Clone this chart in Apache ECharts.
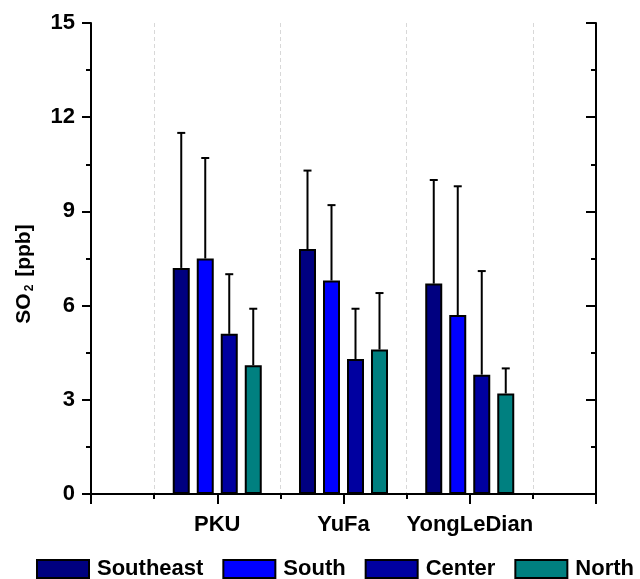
<!DOCTYPE html>
<html>
<head>
<meta charset="utf-8">
<script src="https://cdn.jsdelivr.net/npm/echarts@6/dist/echarts.min.js"></script>
<style>
  html, body { margin: 0; padding: 0; background: #fff; }
  #chart { width: 640px; height: 579px; }
</style>
</head>
<body>
<div id="chart"></div>
<script>
// ---- data ----
const categories = ['PKU', 'YuFa', 'YongLeDian'];
const seriesNames = ['Southeast', 'South', 'Center', 'North'];
const southeast    = [7.2, 7.8, 6.7];
const southeastErr = [4.3, 2.5, 3.3];
const south        = [7.5, 6.8, 5.7];
const southErr     = [3.2, 2.4, 4.1];
const center       = [5.1, 4.3, 3.8];
const centerErr    = [1.9, 1.6, 3.3];
const north        = [4.1, 4.6, 3.2];
const northErr     = [1.8, 1.8, 0.8];
const yMin = 0, yMax = 15, yStep = 3;

// ---- styling ----
const colors = ['#000080', '#0000FF', '#0000A0', '#008080'];
const FONT = 'Liberation Sans, Arial, sans-serif';
const BAR_W = 17;
const BAR_PITCH = 24;

const means = [southeast, south, center, north];
const errs = [southeastErr, southErr, centerErr, northErr];
const axisCats = [''].concat(categories, ['']);

const barSeries = seriesNames.map((name, i) => ({
  name: name,
  type: 'bar',
  xAxisIndex: 0,
  yAxisIndex: 0,
  barWidth: BAR_W,
  barGap: ((BAR_PITCH / BAR_W - 1) * 100).toFixed(1) + '%',
  data: ['-'].concat(means[i], ['-']),
  itemStyle: { color: colors[i], borderColor: '#000', borderWidth: 2 },
  z: 3
}));

const errSeries = seriesNames.map((name, i) => ({
  name: name + ' error',
  type: 'custom',
  xAxisIndex: 0,
  yAxisIndex: 0,
  z: 4,
  data: categories.map((c, k) => [k + 1, means[i][k], means[i][k] + errs[i][k]]),
  renderItem: function (params, api) {
    const p0 = api.coord([api.value(0), api.value(1)]);
    const p1 = api.coord([api.value(0), api.value(2)]);
    const x = p0[0] + (i - 1.5) * BAR_PITCH;
    const st = { stroke: '#000', lineWidth: 2 };
    return {
      type: 'group',
      children: [
        { type: 'line', shape: { x1: x, y1: p0[1], x2: x, y2: p1[1] }, style: st },
        { type: 'line', shape: { x1: x - 4, y1: p1[1], x2: x + 4, y2: p1[1] }, style: st }
      ]
    };
  }
}));

const chart = echarts.init(document.getElementById('chart'), null, { renderer: 'canvas' });
chart.setOption({
  animation: false,
  backgroundColor: '#fff',
  grid: { left: 91, right: 44, top: 23, bottom: 85, containLabel: false, outerBoundsMode: 'none' },
  legend: {
    data: seriesNames,
    left: 36,
    top: 558,
    width: 620,
    padding: 0,
    itemWidth: 52,
    itemHeight: 18,
    itemGap: 19,
    icon: 'rect',
    textStyle: { fontFamily: FONT, fontWeight: 'bold', fontSize: 22, color: '#000', padding: [0, 0, 0, 3] }
  },
  xAxis: [
    {
      type: 'category',
      position: 'bottom',
      data: axisCats,
      boundaryGap: false,
      axisLine: { show: true, lineStyle: { color: '#000', width: 2 } },
      axisTick: { show: true, inside: false, length: 10, interval: 0, lineStyle: { color: '#000', width: 2 } },
      axisLabel: { interval: 0, margin: 20, fontFamily: FONT, fontWeight: 'bold', fontSize: 22, color: '#000' },
      splitLine: { show: false }
    },
    {
      type: 'value',
      position: 'top',
      min: 0,
      max: 4,
      interval: 1,
      axisLine: { show: true, lineStyle: { color: '#000', width: 2 } },
      axisTick: { show: true, inside: true, length: 10, lineStyle: { color: '#000', width: 2 } },
      minorTick: { show: true, splitNumber: 2, length: 5, lineStyle: { color: '#000', width: 2 } },
      axisLabel: { show: false },
      splitLine: { show: false },
      minorSplitLine: { show: true, lineStyle: { color: '#d8d8d8', width: 1, type: [4, 3] } }
    }
  ],
  yAxis: [
    {
      type: 'value',
      position: 'left',
      min: yMin,
      max: yMax,
      interval: yStep,
      axisLine: { show: true, lineStyle: { color: '#000', width: 2 } },
      axisTick: { show: true, inside: false, length: 9, lineStyle: { color: '#000', width: 2 } },
      minorTick: { show: true, splitNumber: 2, length: 5, lineStyle: { color: '#000', width: 2 } },
      axisLabel: { margin: 16, fontFamily: FONT, fontWeight: 'bold', fontSize: 22, color: '#000' },
      splitLine: { show: false }
    },
    {
      type: 'value',
      position: 'right',
      min: yMin,
      max: yMax,
      interval: yStep,
      axisLine: { show: true, lineStyle: { color: '#000', width: 2 } },
      axisTick: { show: true, inside: true, length: 10, lineStyle: { color: '#000', width: 2 } },
      minorTick: { show: true, splitNumber: 2, length: 5, lineStyle: { color: '#000', width: 2 } },
      axisLabel: { show: false },
      splitLine: { show: false }
    }
  ],
  graphic: [{
    type: 'text',
    x: 24,
    y: 274,
    rotation: Math.PI / 2,
    style: {
      text: 'SO{sub|2} [ppb]',
      fontFamily: FONT,
      fontWeight: 'bold',
      fontSize: 21,
      fill: '#000',
      align: 'center',
      verticalAlign: 'middle',
      rich: {
        sub: { fontFamily: FONT, fontWeight: 'bold', fontSize: 12, fill: '#000', verticalAlign: 'bottom', padding: [12, 2, 0, 2] }
      }
    }
  }],
  series: barSeries.concat(errSeries)
});
</script>
</body>
</html>
